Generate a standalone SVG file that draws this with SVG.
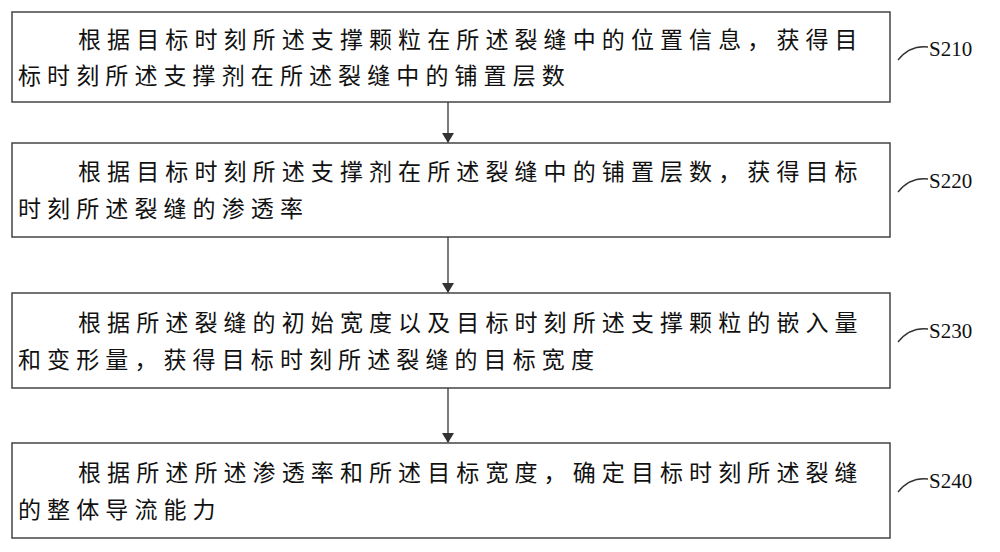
<svg xmlns="http://www.w3.org/2000/svg" width="1000" height="552" viewBox="0 0 1000 552">
<defs><marker id="ah" markerWidth="10" markerHeight="12" refX="9" refY="6" orient="auto" markerUnits="userSpaceOnUse"><path d="M0,0 L10,6 L0,12 Z" fill="#333"/></marker></defs>
<style>
.b{fill:#fff;stroke:#444;stroke-width:1.5}
.t{font-family:"Liberation Serif","Noto Sans CJK SC",serif;font-size:23px;letter-spacing:6.1px;fill:#111}
.l{font-family:"Liberation Serif","Noto Sans CJK SC",serif;font-size:21px;fill:#111}
.c{fill:none;stroke:#333;stroke-width:1.3}
</style>
<rect width="1000" height="552" fill="#fff"/>
<g id="n1"><rect class="b" x="12" y="12" width="878" height="90"/><text class="t" x="78" y="48">根据目标时刻所述支撑颗粒在所述裂缝中的位置信息，获得目</text><text class="t" x="18" y="84">标时刻所述支撑剂在所述裂缝中的铺置层数</text></g>
<g id="n2"><rect class="b" x="12" y="143" width="878" height="94"/><text class="t" x="78" y="180">根据目标时刻所述支撑剂在所述裂缝中的铺置层数，获得目标</text><text class="t" x="18" y="217">时刻所述裂缝的渗透率</text></g>
<g id="n3"><rect class="b" x="12" y="293" width="878" height="95"/><text class="t" x="78" y="331">根据所述裂缝的初始宽度以及目标时刻所述支撑颗粒的嵌入量</text><text class="t" x="18" y="368">和变形量，获得目标时刻所述裂缝的目标宽度</text></g>
<g id="n4"><rect class="b" x="12" y="443" width="878" height="95"/><text class="t" x="78" y="481">根据所述所述渗透率和所述目标宽度，确定目标时刻所述裂缝</text><text class="t" x="18" y="518">的整体导流能力</text></g>
<g id="conn">
<line class="c" x1="448" y1="102" x2="448" y2="142" marker-end="url(#ah)"/>
<line class="c" x1="448" y1="237" x2="448" y2="292" marker-end="url(#ah)"/>
<line class="c" x1="448" y1="388" x2="448" y2="442" marker-end="url(#ah)"/>
<path class="c" d="M898,60 Q910,45 928,47"/>
<path class="c" d="M898,192 Q910,177 928,179"/>
<path class="c" d="M898,342 Q910,327 928,329"/>
<path class="c" d="M898,492 Q910,477 928,479"/>
</g>
<g id="labels">
<text class="l" x="929" y="56">S210</text>
<text class="l" x="929" y="188">S220</text>
<text class="l" x="929" y="338">S230</text>
<text class="l" x="929" y="488">S240</text>
</g>
</svg>
